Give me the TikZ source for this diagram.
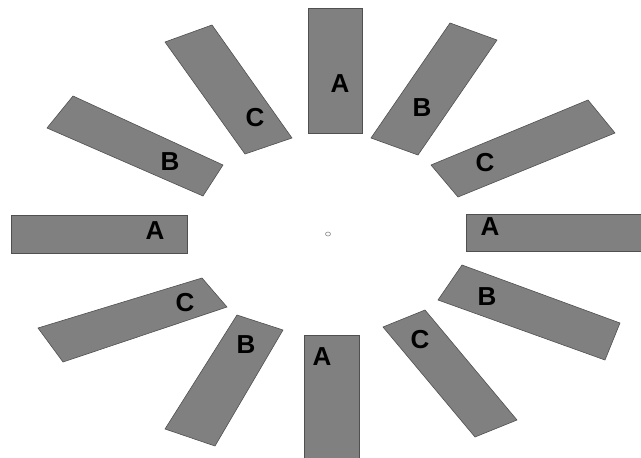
\documentclass[tikz,border=0pt]{standalone}
\usepackage{fontspec}
\setmainfont{Liberation Sans}
\begin{document}
\begin{tikzpicture}[x=1pt,y=-1pt,
  bar/.style={fill={rgb,255:red,128;green,128;blue,128}, draw={rgb,255:red,80;green,80;blue,80}, line width=0.6pt},
  lab/.style={font=\fontsize{26}{26}\selectfont\bfseries, text=black, inner sep=0pt}]
\useasboundingbox (0,0) rectangle (641,458);
% A bars
\draw[bar] (308,8) rectangle (362,133);
\draw[bar] (11,215) rectangle (187,253);
\draw[bar] (466,214) rectangle (645,251);
\draw[bar] (304,335) rectangle (359,462);
% rotated bars
\draw[bar] (165,42) -- (212,25) -- (292,138) -- (245,154) -- cycle;
\draw[bar] (450,23) -- (497,40) -- (418,155) -- (371,138) -- cycle;
\draw[bar] (588,100) -- (615,133) -- (458,197) -- (431,165) -- cycle;
\draw[bar] (73,96) -- (223,165) -- (203,196) -- (47,128) -- cycle;
\draw[bar] (462,265) -- (620,323) -- (605,360) -- (438,300) -- cycle;
\draw[bar] (202,278) -- (227,307) -- (63,362) -- (38,328) -- cycle;
\draw[bar] (237,315) -- (283,330) -- (215,446) -- (165,429) -- cycle;
\draw[bar] (383,327) -- (425,310) -- (517,420) -- (475,437) -- cycle;
% center mark
\draw[gray, line width=0.5pt] (328,234) ellipse (2.5 and 2);
% labels
\node[lab] (a1) at (340,84) {A};
\node[lab] (a2) at (155,231) {A};
\node[lab] (a3) at (490,227) {A};
\node[lab] (a4) at (322,357) {A};
\node[lab] (c1) at (255,118) {C};
\node[lab] (b1) at (422,108) {B};
\node[lab] (c2) at (485,163) {C};
\node[lab] (b2) at (170,162) {B};
\node[lab] (b3) at (487,297) {B};
\node[lab] (c3) at (185,303) {C};
\node[lab] (b4) at (246,345) {B};
\node[lab] (c4) at (420,340) {C};
\end{tikzpicture}
\end{document}
